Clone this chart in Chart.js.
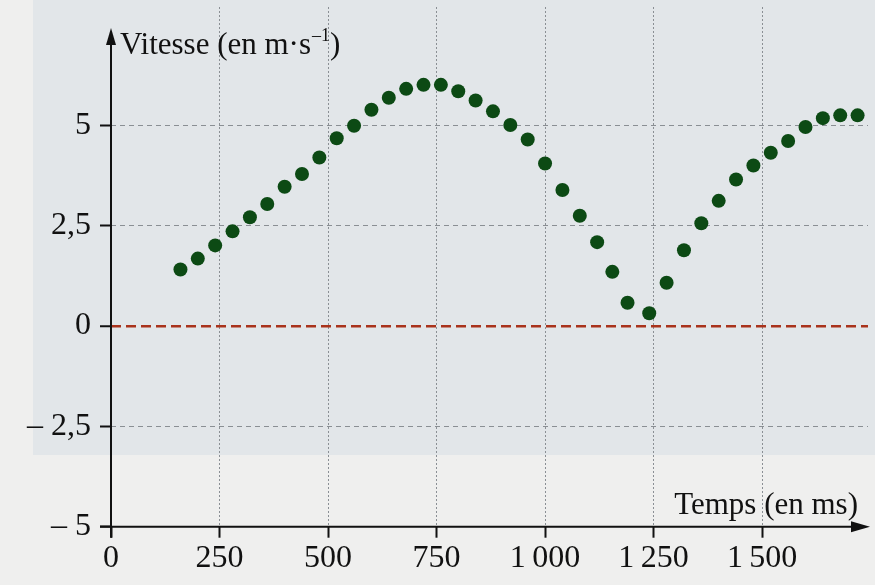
<!DOCTYPE html>
<html lang="fr">
<head>
<meta charset="UTF-8">
<title>Vitesse en fonction du temps</title>
<script src="https://cdn.jsdelivr.net/npm/chart.js"></script>
<style>
    html, body { margin: 0; padding: 0; background: #efefee; }
    canvas { display: block; }
</style>
</head>
<body>
<canvas id="chart" width="875" height="585"></canvas>
<script>
// relevés (temps en ms, vitesse en m/s)
const temps = [160, 200, 240, 280, 320, 360, 400, 440, 480, 520,
               560, 600, 640, 680, 720, 760, 800, 840, 880, 920,
               960, 1000, 1040, 1080, 1120, 1155, 1190, 1240, 1280, 1320,
               1360, 1400, 1440, 1480, 1520, 1560, 1600, 1640, 1680, 1720];
const vitesses = [1.41, 1.68, 2.01, 2.36, 2.71, 3.04, 3.47, 3.79, 4.20, 4.68,
                  4.99, 5.39, 5.69, 5.91, 6.01, 6.01, 5.85, 5.62, 5.35, 5.01,
                  4.65, 4.05, 3.39, 2.75, 2.09, 1.35, 0.58, 0.32, 1.08, 1.89,
                  2.56, 3.12, 3.65, 4.00, 4.32, 4.61, 4.96, 5.18, 5.25, 5.25];

const xTicks = [0, 250, 500, 750, 1000, 1250, 1500];
const xTickLabels = ['0', '250', '500', '750', '1\u2009000', '1\u2009250', '1\u2009500'];
const yTicks = [-5, -2.5, 0, 2.5, 5];
const yTickLabels = ['\u2013 5', '\u2013 2,5', '0', '2,5', '5'];

const SERIF = "'Liberation Serif', 'Times New Roman', serif";
const GRID = '#8a8f94';
const ROUGE = '#a9331c';

// fond, axes fléchés et titres des axes
const decor = {
    id: 'decor',
    beforeDraw(chart) {
        const ctx = chart.ctx;
        ctx.save();
        ctx.fillStyle = '#efefee';
        ctx.fillRect(0, 0, chart.width, chart.height);
        ctx.fillStyle = '#e2e6e9';
        ctx.fillRect(33, 0, chart.width - 33, 455);
        ctx.restore();
    },
    afterDraw(chart) {
        const ctx = chart.ctx;
        const x0 = chart.scales.x.getPixelForValue(0);
        const yb = chart.scales.y.getPixelForValue(-5);
        ctx.save();
        ctx.strokeStyle = '#111';
        ctx.fillStyle = '#111';
        ctx.lineWidth = 2;
        ctx.beginPath();
        ctx.moveTo(x0, yb + 11);
        ctx.lineTo(x0, 40);
        ctx.moveTo(x0 - 11, yb);
        ctx.lineTo(856, yb);
        ctx.stroke();
        ctx.beginPath();
        ctx.moveTo(x0, 28);
        ctx.lineTo(x0 - 5, 45);
        ctx.lineTo(x0 + 5, 45);
        ctx.closePath();
        ctx.fill();
        ctx.beginPath();
        ctx.moveTo(870, yb);
        ctx.lineTo(851, yb - 5.5);
        ctx.lineTo(851, yb + 5.5);
        ctx.closePath();
        ctx.fill();

        ctx.textBaseline = 'alphabetic';
        ctx.font = '31px ' + SERIF;
        let tx = 120;
        const by = 54;
        ctx.textAlign = 'left';
        ctx.fillText('Vitesse (en m\u00b7s', tx, by);
        tx += ctx.measureText('Vitesse (en m\u00b7s').width;
        ctx.font = '18px ' + SERIF;
        ctx.fillText('\u20131', tx + 1, by - 13);
        tx += ctx.measureText('\u20131').width + 1;
        ctx.font = '31px ' + SERIF;
        ctx.fillText(')', tx, by);

        ctx.textAlign = 'right';
        ctx.fillText('Temps (en ms)', 858, 514);
        ctx.restore();
    }
};

new Chart(document.getElementById('chart'), {
    type: 'scatter',
    data: {
        datasets: [{
            label: 'Vitesse',
            data: temps.map((t, i) => ({ x: t, y: vitesses[i] })),
            backgroundColor: '#0c4a14',
            borderWidth: 0,
            pointRadius: 7,
            pointHoverRadius: 7,
            clip: false
        }]
    },
    options: {
        responsive: false,
        animation: false,
        layout: { padding: 0 },
        plugins: {
            legend: { display: false },
            tooltip: { enabled: false }
        },
        scales: {
            x: {
                type: 'linear',
                min: 0,
                max: 1744,
                afterBuildTicks: s => { s.ticks = xTicks.map(v => ({ value: v })); },
                afterFit: s => { s.height = 58.3; s.paddingLeft = 0; s.paddingRight = 0; },
                ticks: {
                    autoSkip: false,
                    maxRotation: 0,
                    padding: 2,
                    color: '#111',
                    font: { family: SERIF, size: 32 },
                    callback: v => xTickLabels[xTicks.indexOf(v)]
                },
                grid: {
                    color: c => c.tick && c.tick.value === 0 ? 'transparent' : GRID,
                    lineWidth: 1,
                    tickColor: '#111',
                    tickWidth: 2,
                    tickLength: 11
                },
                border: { display: false, dash: [2, 2] }
            },
            y: {
                type: 'linear',
                min: -5,
                max: 7.95,
                afterBuildTicks: s => { s.ticks = yTicks.map(v => ({ value: v })); },
                afterFit: s => { s.width = 111; s.paddingTop = 0; s.paddingBottom = 0; },
                ticks: {
                    padding: 9,
                    color: '#111',
                    font: { family: SERIF, size: 32 },
                    callback: v => yTickLabels[yTicks.indexOf(v)]
                },
                grid: {
                    color: c => {
                        if (!c.tick) return GRID;
                        if (c.tick.value === 0) return ROUGE;
                        if (c.tick.value === -5) return 'transparent';
                        return GRID;
                    },
                    lineWidth: c => c.tick && c.tick.value === 0 ? 2.5 : 1,
                    tickColor: '#111',
                    tickWidth: 2,
                    tickLength: 11
                },
                border: {
                    display: false,
                    dash: c => c.tick && c.tick.value === 0 ? [10, 5] : [5, 4]
                }
            }
        }
    },
    plugins: [decor]
});
</script>
</body>
</html>
